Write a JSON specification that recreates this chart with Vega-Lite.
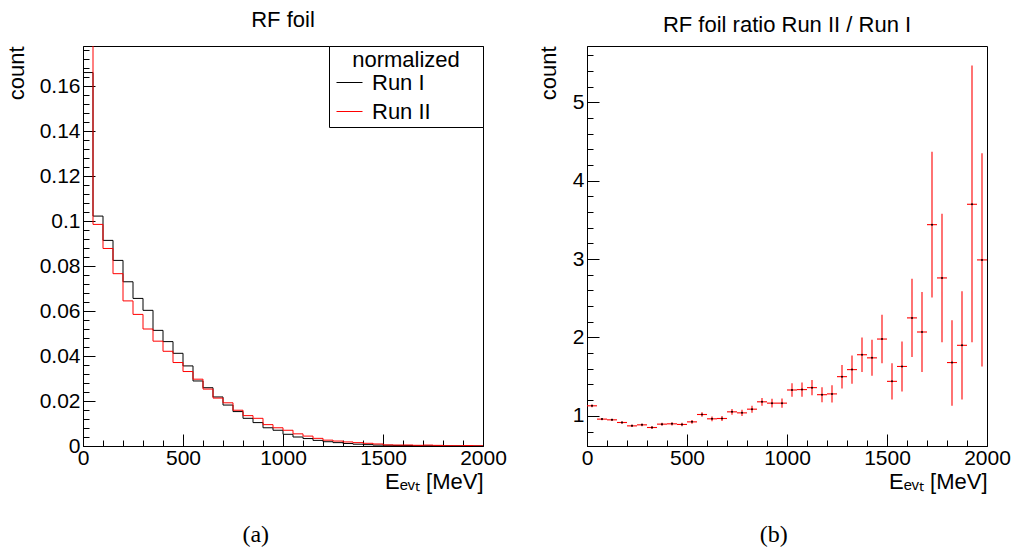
{
  "$schema": "https://vega.github.io/schema/vega-lite/v6.json",
  "padding": {"left": 4, "top": 8, "right": 5, "bottom": 0},
  "spacing": 29,
  "config": {
    "font": "Liberation Sans",
    "view": {"stroke": "black", "strokeWidth": 1},
    "axis": {"domainColor": "black", "tickColor": "black", "labelColor": "black", "titleColor": "black", "labelFont": "Liberation Sans", "titleFont": "Liberation Sans", "labelFontSize": 21, "titleFontSize": 22, "titleFontWeight": "normal", "grid": false, "labelOverlap": false, "labelFlush": false, "labelBound": false, "domainWidth": 1, "tickWidth": 1},
    "title": {"font": "Liberation Sans", "fontSize": 22, "fontWeight": "normal", "color": "black"}
  },
  "datasets": {
    "hist": [
      {"run":"Run I","e":0,"v":0.166},{"run":"Run I","e":50,"v":0.1022},{"run":"Run I","e":100,"v":0.0914},{"run":"Run I","e":150,"v":0.0825},{"run":"Run I","e":200,"v":0.0730},{"run":"Run I","e":250,"v":0.0656},{"run":"Run I","e":300,"v":0.0603},{"run":"Run I","e":350,"v":0.0514},{"run":"Run I","e":400,"v":0.0464},{"run":"Run I","e":450,"v":0.0412},{"run":"Run I","e":500,"v":0.0356},{"run":"Run I","e":550,"v":0.0289},{"run":"Run I","e":600,"v":0.0259},{"run":"Run I","e":650,"v":0.0218},{"run":"Run I","e":700,"v":0.0182},{"run":"Run I","e":750,"v":0.0153},{"run":"Run I","e":800,"v":0.0123},{"run":"Run I","e":850,"v":0.0104},{"run":"Run I","e":900,"v":0.0081},{"run":"Run I","e":950,"v":0.0070},{"run":"Run I","e":1000,"v":0.0052},{"run":"Run I","e":1050,"v":0.0040},{"run":"Run I","e":1100,"v":0.0033},{"run":"Run I","e":1150,"v":0.0025},{"run":"Run I","e":1200,"v":0.0019},{"run":"Run I","e":1250,"v":0.0015},{"run":"Run I","e":1300,"v":0.0011},{"run":"Run I","e":1350,"v":0.0008},{"run":"Run I","e":1400,"v":0.0006},{"run":"Run I","e":1450,"v":0.0004},{"run":"Run I","e":1500,"v":0.00032},{"run":"Run I","e":1550,"v":0.00025},{"run":"Run I","e":1600,"v":0.0002},{"run":"Run I","e":1650,"v":0.00015},{"run":"Run I","e":1700,"v":0.00012},{"run":"Run I","e":1750,"v":0.0001},{"run":"Run I","e":1800,"v":0.00008},{"run":"Run I","e":1850,"v":0.00006},{"run":"Run I","e":1900,"v":0.00005},{"run":"Run I","e":1950,"v":0.00003},{"run":"Run I","e":2000,"v":0.00003},
      {"run":"Run II","e":0,"v":0.188},{"run":"Run II","e":50,"v":0.0985},{"run":"Run II","e":100,"v":0.0878},{"run":"Run II","e":150,"v":0.0766},{"run":"Run II","e":200,"v":0.0645},{"run":"Run II","e":250,"v":0.0585},{"run":"Run II","e":300,"v":0.052},{"run":"Run II","e":350,"v":0.0466},{"run":"Run II","e":400,"v":0.0421},{"run":"Run II","e":450,"v":0.0371},{"run":"Run II","e":500,"v":0.0331},{"run":"Run II","e":550,"v":0.0297},{"run":"Run II","e":600,"v":0.0253},{"run":"Run II","e":650,"v":0.0213},{"run":"Run II","e":700,"v":0.0192},{"run":"Run II","e":750,"v":0.0159},{"run":"Run II","e":800,"v":0.0135},{"run":"Run II","e":850,"v":0.0123},{"run":"Run II","e":900,"v":0.0095},{"run":"Run II","e":950,"v":0.0081},{"run":"Run II","e":1000,"v":0.0070},{"run":"Run II","e":1050,"v":0.0054},{"run":"Run II","e":1100,"v":0.0044},{"run":"Run II","e":1150,"v":0.0034},{"run":"Run II","e":1200,"v":0.0026},{"run":"Run II","e":1250,"v":0.0022},{"run":"Run II","e":1300,"v":0.0018},{"run":"Run II","e":1350,"v":0.0015},{"run":"Run II","e":1400,"v":0.0012},{"run":"Run II","e":1450,"v":0.0009},{"run":"Run II","e":1500,"v":0.0005},{"run":"Run II","e":1550,"v":0.00042},{"run":"Run II","e":1600,"v":0.00045},{"run":"Run II","e":1650,"v":0.00031},{"run":"Run II","e":1700,"v":0.00041},{"run":"Run II","e":1750,"v":0.00028},{"run":"Run II","e":1800,"v":0.00013},{"run":"Run II","e":1850,"v":0.00011},{"run":"Run II","e":1900,"v":0.00019},{"run":"Run II","e":1950,"v":0.00009},{"run":"Run II","e":2000,"v":0.00009}
    ],
    "ratio": [
      {"e0":0,"e1":50,"c":25,"r":1.128,"lo":1.110,"hi":1.146},
      {"e0":50,"e1":100,"c":75,"r":0.958,"lo":0.943,"hi":0.973},
      {"e0":100,"e1":150,"c":125,"r":0.949,"lo":0.934,"hi":0.964},
      {"e0":150,"e1":200,"c":175,"r":0.915,"lo":0.900,"hi":0.930},
      {"e0":200,"e1":250,"c":225,"r":0.872,"lo":0.856,"hi":0.888},
      {"e0":250,"e1":300,"c":275,"r":0.885,"lo":0.868,"hi":0.902},
      {"e0":300,"e1":350,"c":325,"r":0.851,"lo":0.833,"hi":0.869},
      {"e0":350,"e1":400,"c":375,"r":0.894,"lo":0.875,"hi":0.913},
      {"e0":400,"e1":450,"c":425,"r":0.898,"lo":0.878,"hi":0.918},
      {"e0":450,"e1":500,"c":475,"r":0.890,"lo":0.868,"hi":0.912},
      {"e0":500,"e1":550,"c":525,"r":0.923,"lo":0.898,"hi":0.948},
      {"e0":550,"e1":600,"c":575,"r":1.017,"lo":0.987,"hi":1.047},
      {"e0":600,"e1":650,"c":625,"r":0.962,"lo":0.932,"hi":0.992},
      {"e0":650,"e1":700,"c":675,"r":0.966,"lo":0.933,"hi":0.999},
      {"e0":700,"e1":750,"c":725,"r":1.051,"lo":1.015,"hi":1.087},
      {"e0":750,"e1":800,"c":775,"r":1.038,"lo":0.998,"hi":1.078},
      {"e0":800,"e1":850,"c":825,"r":1.085,"lo":1.040,"hi":1.130},
      {"e0":850,"e1":900,"c":875,"r":1.179,"lo":1.129,"hi":1.229},
      {"e0":900,"e1":950,"c":925,"r":1.162,"lo":1.107,"hi":1.217},
      {"e0":950,"e1":1000,"c":975,"r":1.162,"lo":1.102,"hi":1.222},
      {"e0":1000,"e1":1050,"c":1025,"r":1.330,"lo":1.245,"hi":1.415},
      {"e0":1050,"e1":1100,"c":1075,"r":1.335,"lo":1.245,"hi":1.425},
      {"e0":1100,"e1":1150,"c":1125,"r":1.360,"lo":1.264,"hi":1.456},
      {"e0":1150,"e1":1200,"c":1175,"r":1.270,"lo":1.174,"hi":1.366},
      {"e0":1200,"e1":1250,"c":1225,"r":1.280,"lo":1.170,"hi":1.390},
      {"e0":1250,"e1":1300,"c":1275,"r":1.500,"lo":1.350,"hi":1.650},
      {"e0":1300,"e1":1350,"c":1325,"r":1.590,"lo":1.410,"hi":1.770},
      {"e0":1350,"e1":1400,"c":1375,"r":1.780,"lo":1.560,"hi":2.000},
      {"e0":1400,"e1":1450,"c":1425,"r":1.740,"lo":1.510,"hi":1.970},
      {"e0":1450,"e1":1500,"c":1475,"r":1.980,"lo":1.670,"hi":2.290},
      {"e0":1500,"e1":1550,"c":1525,"r":1.440,"lo":1.210,"hi":1.670},
      {"e0":1550,"e1":1600,"c":1575,"r":1.630,"lo":1.310,"hi":1.950},
      {"e0":1600,"e1":1650,"c":1625,"r":2.250,"lo":1.750,"hi":2.750},
      {"e0":1650,"e1":1700,"c":1675,"r":2.070,"lo":1.560,"hi":2.580},
      {"e0":1700,"e1":1750,"c":1725,"r":3.440,"lo":2.510,"hi":4.370},
      {"e0":1750,"e1":1800,"c":1775,"r":2.760,"lo":1.940,"hi":3.580},
      {"e0":1800,"e1":1850,"c":1825,"r":1.680,"lo":1.130,"hi":2.220},
      {"e0":1850,"e1":1900,"c":1875,"r":1.900,"lo":1.210,"hi":2.590},
      {"e0":1900,"e1":1950,"c":1925,"r":3.700,"lo":1.940,"hi":5.470},
      {"e0":1950,"e1":2000,"c":1975,"r":2.990,"lo":1.630,"hi":4.350}
    ]
  },
  "hconcat": [
    {
      "title": {"text": "(a)", "orient": "bottom", "font": "Liberation Serif", "fontSize": 24, "offset": 30, "anchor": "middle"},
      "vconcat": [
        {
          "width": 400,
          "height": 400,
          "title": {"text": "RF foil", "offset": 7, "anchor": "middle", "frame": "group"},
          "data": {"name": "hist"},
          "mark": {"type": "line", "interpolate": "step-after", "clip": true, "strokeWidth": 1},
          "encoding": {
            "x": {"field": "e", "type": "quantitative", "scale": {"domain": [0, 2000], "nice": false, "zero": false},
              "axis": {"values": [0,100,200,300,400,500,600,700,800,900,1000,1100,1200,1300,1400,1500,1600,1700,1800,1900,2000], "tickCount": 200,
                "tickSize": {"condition": {"test": "datum.value % 500 === 0", "value": -12}, "value": -6},
                "labelExpr": "datum.value % 500 === 0 ? format(datum.value, 'd') : ''",
                "labelPadding": 13,
                "title": "Eₑᵥₜ [MeV]", "titleAnchor": "end", "titleAlign": "right", "titlePadding": -3}},
            "y": {"field": "v", "type": "quantitative", "scale": {"domain": [0, 0.1778], "nice": false},
              "axis": {"values": [0,0.004,0.008,0.012,0.016,0.02,0.024,0.028,0.032,0.036,0.04,0.044,0.048,0.052,0.056,0.06,0.064,0.068,0.072,0.076,0.08,0.084,0.088,0.092,0.096,0.1,0.104,0.108,0.112,0.116,0.12,0.124,0.128,0.132,0.136,0.14,0.144,0.148,0.152,0.156,0.16,0.164,0.168,0.172,0.176], "tickCount": 200,
                "tickSize": {"condition": {"test": "abs(datum.value*50 - round(datum.value*50)) < 0.001", "value": -12}, "value": -6},
                "labelExpr": "abs(datum.value*50 - round(datum.value*50)) < 0.001 ? format(datum.value, '~g') : ''",
                "labelPadding": 15,
                "title": "count", "titleAnchor": "end", "titlePadding": 11}},
            "color": {"field": "run", "type": "nominal", "scale": {"domain": ["Run I", "Run II"], "range": ["#000000", "#ff0000"]},
              "legend": {"orient": "none", "legendX": 246, "legendY": 0, "title": "normalized", "titleAnchor": "middle", "titleAlign": "center", "titleFontSize": 22, "titleFontWeight": "normal", "titleFont": "Liberation Sans", "titleColor": "black", "labelFontSize": 22, "labelFont": "Liberation Sans", "labelColor": "black", "labelLimit": 300, "labelExpr": "datum.label + '\u2800\u2800\u2800'", "symbolType": "stroke", "symbolSize": 676, "symbolStrokeWidth": 1, "symbolOffset": 3, "strokeColor": "black", "fillColor": "white", "padding": 4, "titlePadding": -3, "rowPadding": 4, "labelOffset": 9, "cornerRadius": 0}}
          }
        }
      ]
    },
    {
      "title": {"text": "(b)", "orient": "bottom", "font": "Liberation Serif", "fontSize": 24, "offset": 30, "anchor": "middle"},
      "vconcat": [
        {
          "width": 400,
          "height": 400,
          "title": {"text": "RF foil ratio Run II / Run I", "offset": 7, "anchor": "middle", "frame": "group"},
          "data": {"name": "ratio"},
          "layer": [
            {
              "mark": {"type": "rule", "color": "#ff0000", "strokeWidth": 1.1, "clip": true},
              "encoding": {
                "x": {"field": "c", "type": "quantitative", "scale": {"domain": [0, 2000], "nice": false, "zero": false},
                  "axis": {"values": [0,100,200,300,400,500,600,700,800,900,1000,1100,1200,1300,1400,1500,1600,1700,1800,1900,2000], "tickCount": 200,
                    "tickSize": {"condition": {"test": "datum.value % 500 === 0", "value": -12}, "value": -6},
                    "labelExpr": "datum.value % 500 === 0 ? format(datum.value, 'd') : ''",
                    "labelPadding": 13,
                    "title": "Eₑᵥₜ [MeV]", "titleAnchor": "end", "titleAlign": "right", "titlePadding": -3}},
                "y": {"field": "lo", "type": "quantitative", "scale": {"domain": [0.615, 5.72], "nice": false, "zero": false},
                  "axis": {"values": [0.8,1,1.2,1.4,1.6,1.8,2,2.2,2.4,2.6,2.8,3,3.2,3.4,3.6,3.8,4,4.2,4.4,4.6,4.8,5,5.2,5.4,5.6], "tickCount": 200,
                    "tickSize": {"condition": {"test": "abs(datum.value - round(datum.value)) < 0.001", "value": -12}, "value": -6},
                    "labelExpr": "abs(datum.value - round(datum.value)) < 0.001 ? format(datum.value, 'd') : ''",
                    "labelPadding": 15,
                    "title": "count", "titleAnchor": "end", "titlePadding": 12}},
                "y2": {"field": "hi"}
              }
            },
            {
              "mark": {"type": "rule", "color": "#ff0000", "strokeWidth": 1.1, "clip": true},
              "encoding": {
                "x": {"field": "e0", "type": "quantitative"},
                "x2": {"field": "e1"},
                "y": {"field": "r", "type": "quantitative"}
              }
            },
            {
              "mark": {"type": "point", "filled": true, "color": "#000000", "size": 4, "opacity": 1, "clip": true},
              "encoding": {
                "x": {"field": "c", "type": "quantitative"},
                "y": {"field": "r", "type": "quantitative"}
              }
            }
          ]
        }
      ]
    }
  ]
}
